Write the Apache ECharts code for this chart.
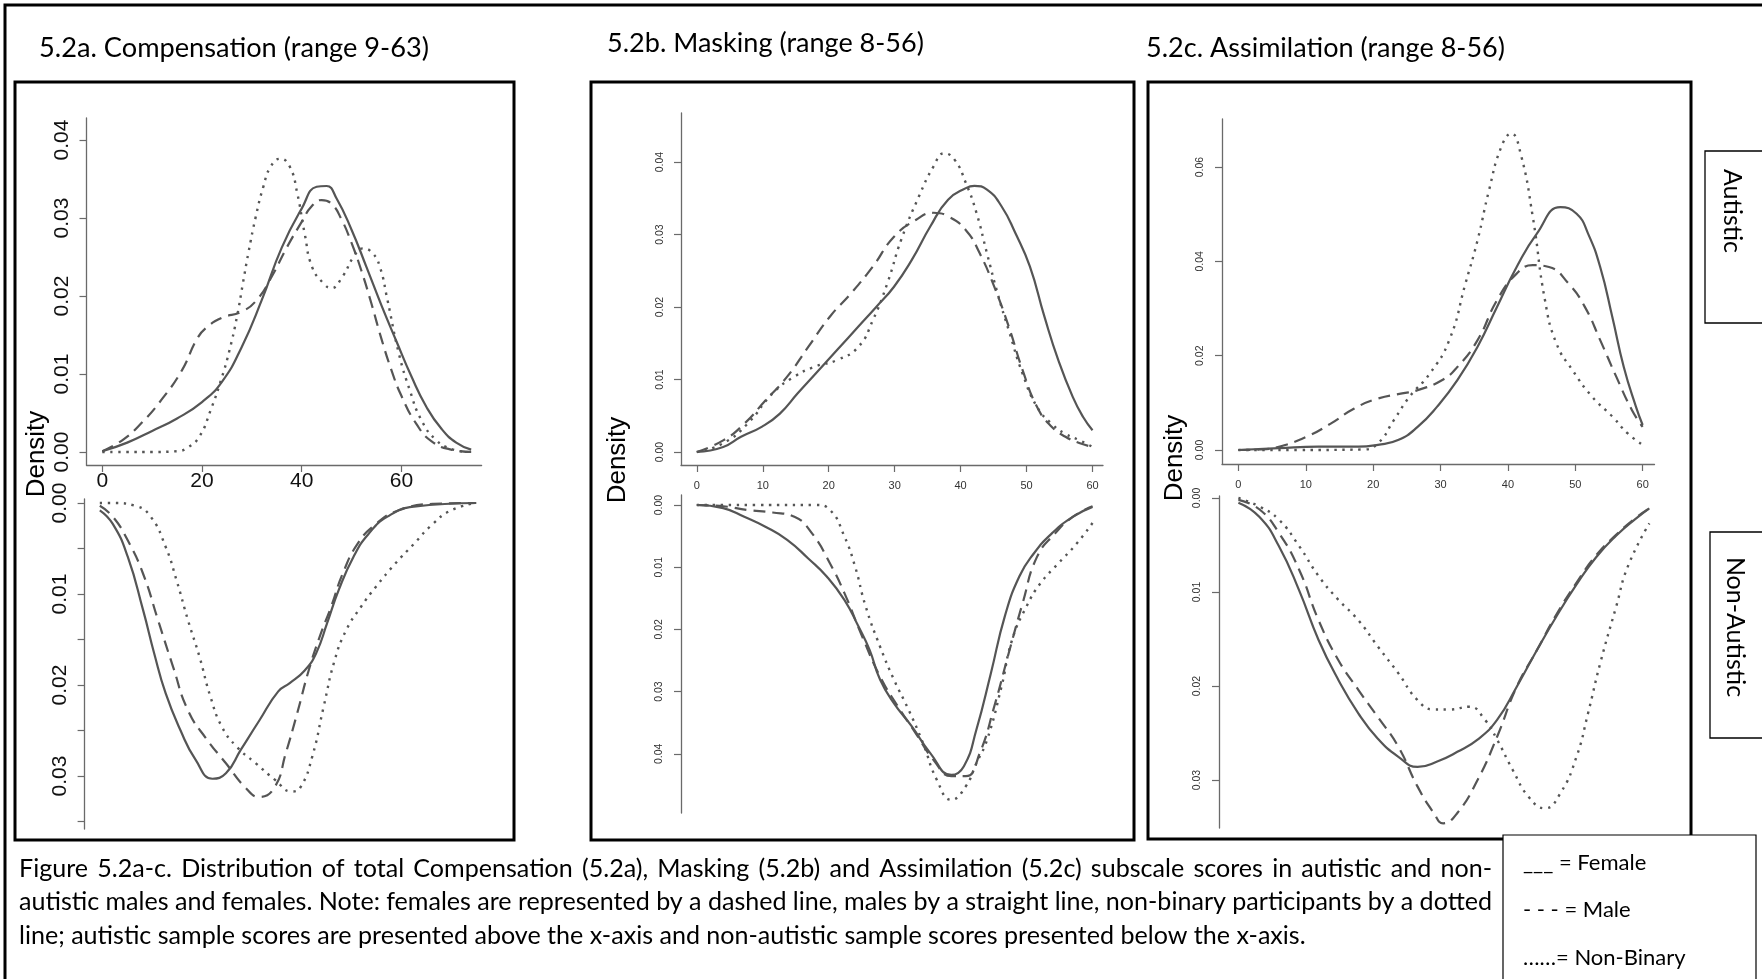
<!DOCTYPE html>
<html><head><meta charset="utf-8">
<script src="https://cdn.jsdelivr.net/npm/echarts@6/dist/echarts.min.js"></script>
<style>html,body{margin:0;padding:0;background:#fff}#c{width:1762px;height:979px}</style>
</head><body><div id="c"></div>
<script>
// ---------- data (x = score, y = density) ----------
const panelTitles = ['5.2a. Compensation (range 9-63)', '5.2b. Masking (range 8-56)', '5.2c. Assimilation (range 8-56)'];
const xTicksA = [0, 20, 40, 60];
const xTicksBC = [0, 10, 20, 30, 40, 50, 60];
const yTicksATop = [0, 0.01, 0.02, 0.03, 0.04];
const yTicksABotMarks = [0, 0.005, 0.01, 0.015, 0.02, 0.025, 0.03, 0.035];
const yTicksABotLabels = [0, 0.01, 0.02, 0.03];
const yTicksBTop = [0, 0.01, 0.02, 0.03, 0.04];
const yTicksBBot = [0, 0.01, 0.02, 0.03, 0.04];
const yTicksCTop = [0, 0.02, 0.04, 0.06];
const yTicksCBot = [0, 0.01, 0.02, 0.03];
const sideLabels = ['Autistic', 'Non-Autistic'];
const legendLines = ['___ = Female', '- - - = Male', '……= Non-Binary'];
const captionLines = [
  'Figure 5.2a-c. Distribution of total Compensation (5.2a), Masking (5.2b) and Assimilation (5.2c) subscale scores in autistic and non-',
  'autistic males and females. Note: females are represented by a dashed line, males by a straight line, non-binary participants by a dotted',
  'line; autistic sample scores are presented above the x-axis and non-autistic sample scores presented below the x-axis.'
];

const compAutMale = [[0,0.0001],[5,0.0012],[10,0.0027],[15,0.0043],[20,0.0064],[24,0.0090],[28,0.0135],[32,0.0195],[36,0.0262],[40,0.0312],[43,0.0340],[45,0.0341],[47,0.0325],[50,0.0285],[53,0.0237],[56,0.0188],[59,0.0142],[62,0.0097],[65,0.0058],[68,0.0030],[71,0.0012],[74,0.0003]];
const compAutFemale = [[0,0.0001],[4,0.0015],[8,0.0038],[12,0.0068],[16,0.0105],[19,0.0145],[21,0.0160],[24,0.0172],[28,0.0180],[31,0.0195],[34,0.0225],[37,0.0262],[40,0.0295],[42,0.0315],[44,0.0323],[46,0.0318],[48,0.0298],[50,0.0268],[52,0.0232],[54,0.0190],[56,0.0145],[58,0.0105],[60,0.0072],[63,0.0036],[66,0.0014],[70,0.0003],[74,0.0000]];
const compAutNB = [[0,0],[5,0],[10,0],[15,0.0001],[17.2,0.0006],[19.5,0.002],[21.7,0.0053],[24,0.0096],[25.5,0.013],[27,0.0173],[28.2,0.0216],[29.3,0.0255],[30.8,0.0302],[32.3,0.034],[33.8,0.0366],[35.7,0.0376],[37.6,0.0366],[39.1,0.0332],[40.6,0.028],[42.1,0.0237],[44.4,0.0216],[45.9,0.021],[48.2,0.0225],[50.4,0.025],[52.3,0.0261],[54.2,0.0255],[55.7,0.0237],[57.2,0.0195],[59.5,0.0126],[61.7,0.0079],[64,0.0041],[67,0.0015],[70,0.0004],[73,0]];
const compNonMale = [[-0.5,0.0008],[2.1,0.0023],[5.1,0.0059],[8.2,0.0118],[10.4,0.0165],[12.7,0.0209],[15.7,0.025],[18.7,0.0282],[22.1,0.0303],[24.8,0.0297],[27.8,0.0271],[31.5,0.0239],[35.3,0.0207],[37.6,0.0198],[40.6,0.0184],[42.9,0.0165],[45.1,0.0132],[47.4,0.0096],[50.4,0.0059],[53.4,0.0034],[57.2,0.0015],[62.5,0.0004],[75,0]];
const compNonFemale = [[-0.5,0.0003],[2.1,0.0015],[5.1,0.0041],[8.2,0.0078],[11.2,0.0129],[14.2,0.018],[17.2,0.0228],[21,0.026],[24.8,0.0286],[28.6,0.0312],[31.5,0.0323],[34.6,0.0312],[36.8,0.0275],[39.1,0.0231],[41.4,0.0184],[43.6,0.0147],[45.9,0.0114],[48.2,0.0078],[51.2,0.0045],[54.9,0.0023],[59.5,0.0008],[66.3,0.0001],[75,0]];
const compNonNB = [[-0.5,0],[2.1,0],[6.6,0.0003],[9.7,0.0015],[12.7,0.0048],[14.9,0.0085],[17.2,0.0129],[19.5,0.0169],[21.7,0.0213],[24,0.0246],[27,0.0268],[30.8,0.0286],[34.6,0.0304],[38,0.0317],[39.8,0.0312],[42.1,0.0279],[44.4,0.0224],[46.6,0.0173],[48.9,0.014],[51.9,0.0114],[54.9,0.0092],[58.7,0.0067],[62.5,0.0045],[66.3,0.0023],[70,0.0008],[75,0]];

const maskAutMale = [[0,0],[4,0.0007],[6.7,0.0021],[9.9,0.0035],[12.6,0.0053],[15.3,0.0081],[18,0.0108],[21.3,0.0141],[24.5,0.0173],[27.2,0.02],[29.9,0.0228],[32.6,0.0265],[35.4,0.0311],[38.1,0.0348],[40.8,0.0364],[42.1,0.0367],[44,0.0362],[46.2,0.0339],[48.3,0.0302],[50.5,0.0256],[52.7,0.0187],[54.8,0.0127],[57,0.0076],[58.6,0.0048],[60,0.003]];
const maskAutFemale = [[0,0],[4,0.0016],[7.2,0.0039],[10.4,0.0071],[13.7,0.0104],[16.9,0.0145],[20.2,0.0187],[23.4,0.0219],[26.7,0.0256],[29.9,0.0297],[33.2,0.032],[35.9,0.033],[38.1,0.0325],[40.8,0.0306],[42.9,0.0274],[45.1,0.0228],[47.3,0.0173],[49.4,0.0113],[51.6,0.0062],[53.8,0.0035],[55.9,0.0021],[58.1,0.0012],[60,0.0007]];
const maskAutNB = [[0,0],[4,0.0012],[7.7,0.0039],[11.5,0.0081],[14.8,0.0104],[18,0.0118],[21.3,0.0127],[24.5,0.0145],[26.7,0.0182],[28.9,0.0233],[31,0.0293],[33.7,0.0353],[35.9,0.0394],[37.5,0.0412],[39.1,0.0403],[40.8,0.0371],[42.4,0.033],[44,0.0274],[45.6,0.0219],[47.3,0.0168],[49.4,0.0108],[51.6,0.0062],[53.8,0.0039],[55.9,0.0025],[58.1,0.0016],[60,0.0007]];
const maskNonMale = [[0,0],[4,0.0005],[7.2,0.0019],[10.4,0.0035],[13.7,0.0056],[16.9,0.0086],[19.7,0.0115],[22.4,0.0153],[24.5,0.0195],[26.2,0.0233],[27.8,0.0281],[29.9,0.0319],[32.6,0.0356],[35.4,0.0399],[38.6,0.0434],[40.5,0.042],[42.4,0.0361],[44.6,0.027],[46.7,0.0179],[48.9,0.0115],[51.1,0.0078],[53.8,0.0046],[57,0.0019],[60,0.0003]];
const maskNonFemale = [[0,0],[4,0.0002],[7.7,0.0008],[11.5,0.0012],[14.8,0.0019],[17.5,0.0046],[20.2,0.0094],[22.4,0.0142],[25.1,0.0212],[27.8,0.0276],[30.5,0.0324],[33.2,0.0367],[35.9,0.041],[38.6,0.0436],[40.8,0.0436],[42.9,0.0399],[45.1,0.0324],[47.3,0.0238],[49.4,0.0158],[51.6,0.0083],[54.3,0.0046],[57,0.0019],[60,0.0002]];
const maskNonNB = [[0,0],[9.4,0],[18,0],[20.2,0.0008],[22.4,0.0051],[24,0.0099],[25.6,0.0163],[27.8,0.0228],[29.9,0.0281],[32.1,0.0329],[34.3,0.0383],[36.4,0.0442],[38.6,0.0474],[40.8,0.0452],[42.4,0.0415],[44,0.0378],[46.2,0.0292],[47.8,0.0217],[50,0.0163],[52.1,0.0126],[54.8,0.0094],[57.6,0.0062],[60,0.0029]];

const assimAutMale = [[0,0],[6,0.0004],[11.9,0.0007],[17.8,0.0007],[20.7,0.0011],[23.7,0.0021],[26.6,0.0049],[29.5,0.0092],[32.5,0.0148],[35.5,0.0219],[38.4,0.0304],[41.3,0.0388],[44.3,0.0459],[47.8,0.0515],[50.2,0.0501],[51.9,0.0459],[53.7,0.0388],[55.5,0.0282],[57.2,0.0176],[59,0.0092],[60,0.0053]];
const assimAutFemale = [[0,0],[3.1,0.0001],[6,0.0007],[10.1,0.0028],[13.7,0.0056],[17.2,0.0088],[20.7,0.0109],[24.3,0.012],[26.6,0.0127],[30.2,0.0148],[32.5,0.0176],[35.5,0.0233],[38.4,0.0318],[41.3,0.0374],[43.7,0.0392],[46.1,0.0388],[49,0.0353],[51.4,0.0304],[53.7,0.0233],[56.1,0.0155],[58.4,0.0085],[60,0.0049]];
const assimAutNB = [[0,0],[9,0],[18.4,0.0001],[20.7,0.0014],[23.1,0.0064],[25.4,0.0113],[28.4,0.0162],[31.3,0.0233],[33.7,0.0353],[35.5,0.0445],[37.2,0.0551],[39,0.0642],[40.5,0.0671],[41.9,0.0628],[43.7,0.0494],[45.5,0.0318],[47.2,0.0226],[49.6,0.0169],[52.5,0.0113],[55.5,0.0071],[57.8,0.0035],[60,0.0011]];
const assimNonMale = [[0,0.0005],[3.1,0.002],[6,0.0051],[9,0.0098],[11.9,0.0151],[14.8,0.0193],[17.8,0.0229],[20.7,0.0256],[23.7,0.0275],[26.6,0.0286],[29.6,0.028],[32.5,0.027],[35.5,0.0257],[38.4,0.0236],[41.3,0.0201],[44.3,0.0162],[47.2,0.0126],[50.2,0.0092],[53.1,0.0063],[56.1,0.004],[59,0.0022],[61,0.0011]];
const assimNonFemale = [[0,0.0002],[3.1,0.0012],[6,0.0037],[9,0.0076],[11.9,0.013],[14.8,0.0172],[17.8,0.0204],[20.7,0.0233],[23.7,0.0264],[26.6,0.0307],[29,0.0335],[30.4,0.0346],[32.5,0.0335],[35.5,0.03],[38.4,0.0254],[41.3,0.0201],[44.3,0.0162],[47.2,0.0124],[50.2,0.009],[53.1,0.0061],[56.1,0.0039],[59,0.0021],[61,0.0011]];
const assimNonNB = [[0,0],[3.1,0.0009],[6,0.0023],[9,0.0051],[11.9,0.0083],[14.8,0.0108],[17.8,0.013],[20.7,0.0158],[23.7,0.0186],[26.6,0.0215],[29,0.0225],[31.3,0.0225],[34.3,0.0222],[36.6,0.0236],[38.4,0.0257],[40.7,0.0289],[43.1,0.0318],[45.5,0.033],[47.8,0.0314],[50.2,0.0275],[51.9,0.0229],[53.7,0.0176],[56.1,0.0115],[57.8,0.0073],[61,0.0027]];

// ---------- layout ----------
const LINE = '#555';
const AXIS = '#6a6a6a';
const R_FONT = '"Liberation Sans", Arial, sans-serif';
const C_FONT = 'Lato, "Open Sans", sans-serif';

const ctx = document.createElement('canvas').getContext('2d');
function fitSize(text, targetW) {
  ctx.font = '100px ' + C_FONT;
  return 100 * targetW / ctx.measureText(text).width;
}

const grids = [
  {left: 86.5, top: 118, width: 395.1, height: 347},   // A top
  {left: 84.6, top: 499, width: 397, height: 330},     // A bottom
  {left: 681, top: 113, width: 422, height: 352},      // B top
  {left: 681, top: 495, width: 422, height: 318},      // B bottom
  {left: 1222, top: 119, width: 432.5, height: 345},   // C top
  {left: 1219, top: 496, width: 436, height: 332}      // C bottom
].map(g => Object.assign({containLabel: false, outerBoundsMode: 'none'}, g));

function xAx(gi, min, max, ticks, showAxis, fs, color, margin) {
  return {
    type: 'value', gridIndex: gi, min: min, max: max, show: showAxis, position: 'bottom',
    axisLine: {show: true, onZero: false, lineStyle: {color: AXIS, width: 1.3}},
    axisTick: {show: true, length: 7, customValues: ticks, lineStyle: {color: AXIS, width: 1.2}},
    axisLabel: {show: true, customValues: ticks, margin: margin, fontSize: fs, color: color, fontFamily: R_FONT,
      formatter: v => String(Math.round(v))},
    splitLine: {show: false}
  };
}
function yAx(gi, min, max, tickMarks, tickLabels, inverse, fs, color, margin) {
  return {
    type: 'value', gridIndex: gi, min: min, max: max, inverse: inverse, position: 'left',
    axisLine: {show: true, onZero: false, lineStyle: {color: AXIS, width: 1.3}},
    axisTick: {show: true, length: 7, customValues: tickMarks, lineStyle: {color: AXIS, width: 1.2}},
    axisLabel: {show: true, customValues: tickLabels, rotate: 90, margin: margin, fontSize: fs, color: color, fontFamily: R_FONT,
      formatter: v => v.toFixed(2)},
    splitLine: {show: false}
  };
}

const xAxes = [
  xAx(0, -3.169, 76.09, xTicksA, true, 21, '#111', 6),
  xAx(1, -3.551, 76.09, xTicksA, false, 21, '#111', 6),
  xAx(2, -2.396, 61.59, xTicksBC, true, 11, '#333', 15),
  xAx(3, -2.396, 61.59, xTicksBC, false, 11, '#333', 15),
  xAx(4, -2.434, 61.76, xTicksBC, true, 11, '#333', 15),
  xAx(5, -2.880, 61.84, xTicksBC, false, 11, '#333', 15)
];
const yAxes = [
  yAx(0, -0.00167, 0.04282, yTicksATop, yTicksATop, false, 21, '#111', 14),
  yAx(1, -0.00044, 0.03582, yTicksABotMarks, yTicksABotLabels, true, 21, '#111', 14),
  yAx(2, -0.00179, 0.04676, yTicksBTop, yTicksBTop, false, 10.5, '#333', 15),
  yAx(3, -0.00161, 0.04952, yTicksBBot, yTicksBBot, true, 10.5, '#333', 16),
  yAx(4, -0.00297, 0.0702, yTicksCTop, yTicksCTop, false, 10.5, '#333', 16),
  yAx(5, -0.00021, 0.0351, yTicksCBot, yTicksCBot, true, 10.5, '#333', 16)
];

const styles = {
  male: {color: LINE, width: 2.2, type: 'solid'},
  female: {color: LINE, width: 2.2, type: [12, 7]},
  nb: {color: LINE, width: 2.4, type: [2.4, 5.6]}
};
const panelSeries = [
  [compAutFemale, compAutMale, compAutNB],
  [compNonFemale, compNonMale, compNonNB],
  [maskAutFemale, maskAutMale, maskAutNB],
  [maskNonFemale, maskNonMale, maskNonNB],
  [assimAutFemale, assimAutMale, assimAutNB],
  [assimNonFemale, assimNonMale, assimNonNB]
];
const kinds = ['female', 'male', 'nb'];
const series = [];
panelSeries.forEach((arr, gi) => {
  arr.forEach((d, k) => {
    series.push({
      type: 'line', name: kinds[k] + gi, xAxisIndex: gi, yAxisIndex: gi, data: d,
      showSymbol: false, symbol: 'none', smooth: 0.5, animation: false,
      lineStyle: Object.assign({cap: 'butt', join: 'round'}, styles[kinds[k]])
    });
  });
});

// ---------- decorations ----------
const graphics = [];
graphics.push({type: 'rect', shape: {x: 5, y: 5, width: 1800, height: 1000}, style: {fill: null, stroke: '#000', lineWidth: 3}, silent: true});
[[15, 82, 499, 758], [591, 82, 543, 758], [1148, 82, 543, 757]].forEach(b => {
  graphics.push({type: 'rect', shape: {x: b[0], y: b[1], width: b[2], height: b[3]}, style: {fill: null, stroke: '#000', lineWidth: 3}, silent: true});
});
// titles: left x, centre y, target width
[[39, 48, 390], [607, 43, 317], [1146, 48, 359]].forEach((p, i) => {
  const fs = fitSize(panelTitles[i], p[2]);
  graphics.push({type: 'text', x: p[0], y: p[1], style: {text: panelTitles[i], font: fs.toFixed(2) + 'px ' + C_FONT, fill: '#000', textAlign: 'left', textVerticalAlign: 'middle'}});
});
[[37, 454], [618, 460], [1175, 458]].forEach(p => {
  graphics.push({type: 'text', x: p[0], y: p[1], rotation: Math.PI / 2, style: {text: 'Density', font: '26px ' + R_FONT, fill: '#000', textAlign: 'center', textVerticalAlign: 'middle'}});
});
// side labels
graphics.push({type: 'rect', shape: {x: 1705, y: 151, width: 70, height: 172}, style: {fill: null, stroke: '#000', lineWidth: 1.3}});
graphics.push({type: 'rect', shape: {x: 1710, y: 532, width: 70, height: 206}, style: {fill: null, stroke: '#000', lineWidth: 1.3}});
graphics.push({type: 'text', x: 1732, y: 211, rotation: -Math.PI / 2, style: {text: sideLabels[0], font: '25px ' + C_FONT, fill: '#000', textAlign: 'center', textVerticalAlign: 'middle'}});
graphics.push({type: 'text', x: 1735, y: 627, rotation: -Math.PI / 2, style: {text: sideLabels[1], font: '25px ' + C_FONT, fill: '#000', textAlign: 'center', textVerticalAlign: 'middle'}});
// legend
graphics.push({type: 'rect', shape: {x: 1503, y: 835, width: 253, height: 200}, style: {fill: '#fff', stroke: '#000', lineWidth: 1.2}});
[863, 910, 958].forEach((y, i) => {
  graphics.push({type: 'text', x: 1523, y: y, style: {text: legendLines[i], font: '22px ' + C_FONT, fill: '#000', textAlign: 'left', textVerticalAlign: 'middle'}});
});
// caption with justified lines
const capX0 = 19, capX1 = 1492, capLastEnd = 1306;
const capSize = fitSize(captionLines[2], capLastEnd - capX0);
const capFont = capSize.toFixed(2) + 'px ' + C_FONT;
ctx.font = capFont;
[869, 902, 936].forEach((y, i) => {
  const line = captionLines[i];
  if (i === captionLines.length - 1) {
    graphics.push({type: 'text', x: capX0, y: y, style: {text: line, font: capFont, fill: '#000', textAlign: 'left', textVerticalAlign: 'middle'}});
    return;
  }
  const words = line.split(' ');
  const widths = words.map(w => ctx.measureText(w).width);
  const total = widths.reduce((a, b) => a + b, 0);
  const gap = (capX1 - capX0 - total) / (words.length - 1);
  let x = capX0;
  words.forEach((w, k) => {
    graphics.push({type: 'text', x: x, y: y, style: {text: w, font: capFont, fill: '#000', textAlign: 'left', textVerticalAlign: 'middle'}});
    x += widths[k] + gap;
  });
});

const chart = echarts.init(document.getElementById('c'), null, {renderer: 'canvas'});
chart.setOption({
  backgroundColor: '#fff',
  animation: false,
  grid: grids,
  xAxis: xAxes,
  yAxis: yAxes,
  series: series,
  graphic: graphics
});
</script></body></html>
